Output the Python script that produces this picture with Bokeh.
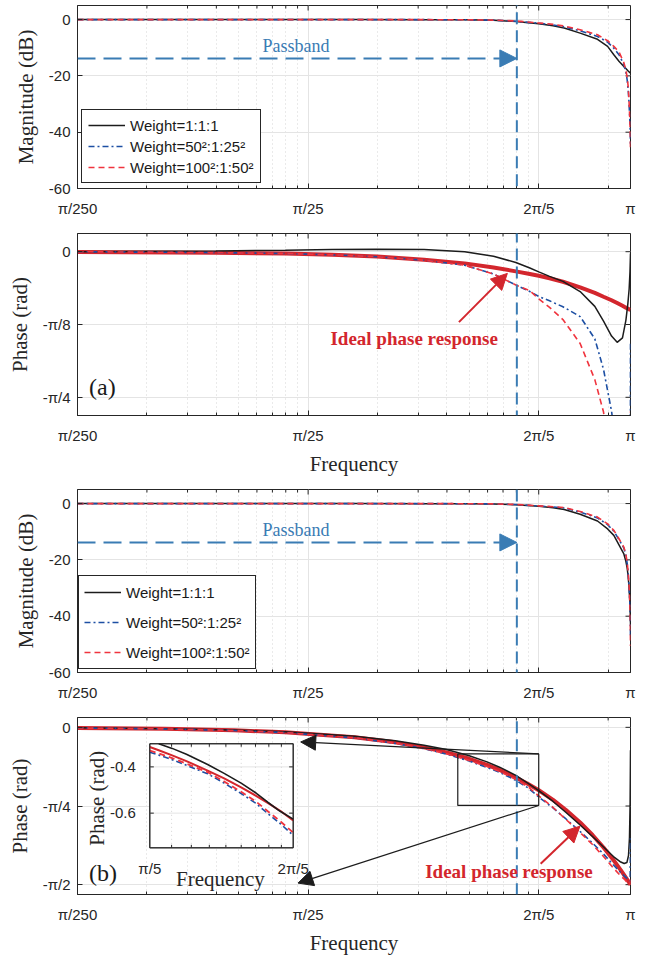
import math
from bokeh.plotting import figure
from bokeh.layouts import column
from bokeh.models import (FixedTicker, Range1d, LogScale,
                          Legend, LegendItem, Arrow, NormalHead, Label)
from bokeh.embed import file_html
from bokeh.resources import INLINE

PI = math.pi

# ---------------- axes / ticks ----------------
X_TICKS = [PI / 250, PI / 25, 2 * PI / 5, PI]
X_TICK_LABELS = ["π/250", "π/25", "2π/5", "π"]
X_MINOR_TICKS = ([k * PI / 250 for k in range(2, 10)]
                 + [k * PI / 25 for k in range(2, 10)] + [4 * PI / 5])

MAG_TICKS = [-60, -40, -20, 0]
MAG_TICK_LABELS = ["-60", "-40", "-20", "0"]
PHASE_A_TICKS = [-PI / 4, -PI / 8, 0]
PHASE_A_TICK_LABELS = ["-π/4", "-π/8", "0"]
PHASE_B_TICKS = [-PI / 2, -PI / 4, 0]
PHASE_B_TICK_LABELS = ["-π/2", "-π/4", "0"]

MAG_Y_RANGE = (-60, 5)
PHASE_A_Y_RANGE = (-9 * PI / 32, PI / 32)
PHASE_B_Y_RANGE = (-17 * PI / 32, PI / 32)

SERIES_LABELS = ["Weight=1:1:1", "Weight=50²:1:25²", "Weight=100²:1:50²"]

# ---------------- magnitude data (dB) ----------------
FREQ_MAG = [0.012566, 0.05, 0.1, 0.2, 0.4, 0.6, 0.8, 1.0, 1.257, 1.45, 1.62, 1.9,
            2.26, 2.5, 2.66, 2.8, 2.94, 3.0, 3.04, 3.07, 3.09, 3.11, 3.125, 3.135, 3.1416]
MAG_A_W1 = [0.0, 0.0, 0.0, -0.01, -0.05, -0.1, -0.25, -0.7, -1.5, -2.2, -3.0, -4.8,
            -7.0, -9.5, -12.5, -14.8, -16.7, -17.4, -17.9, -18.3, -18.5, -18.7, -18.85, -18.95, -19.0]
MAG_A_W2 = [0.0, 0.0, 0.0, -0.01, -0.03, -0.08, -0.2, -0.6, -1.3, -1.9, -2.6, -4.0,
            -6.0, -8.0, -10.2, -12.5, -16.0, -18.5, -21.5, -25.0, -28.5, -33.0, -37.0, -40.5, -45.0]
MAG_A_W3 = [0.0, 0.0, 0.0, -0.01, -0.03, -0.07, -0.18, -0.5, -1.2, -1.7, -2.3, -3.6,
            -5.4, -7.5, -9.5, -11.5, -15.3, -17.9, -20.5, -23.8, -27.5, -32.5, -37.0, -41.0, -46.4]
MAG_B_W1 = [0.0, 0.0, 0.0, -0.01, -0.02, -0.05, -0.15, -0.4, -0.96, -1.5, -2.1, -3.8,
            -6.2, -9.0, -11.3, -14.7, -17.9, -20.5, -23.0, -26.0, -28.8, -32.5, -36.5, -39.5, -42.8]
MAG_B_W2 = [0.0, 0.0, 0.0, -0.01, -0.02, -0.04, -0.12, -0.35, -0.85, -1.2, -1.55, -3.0,
            -5.1, -7.5, -9.8, -12.8, -15.8, -18.3, -21.3, -24.8, -28.3, -32.2, -36.8, -41.5, -47.6]
MAG_B_W3 = [0.0, 0.0, 0.0, -0.01, -0.02, -0.04, -0.1, -0.3, -0.8, -1.1, -1.4, -2.8,
            -4.8, -7.2, -9.5, -12.5, -15.5, -18.0, -21.0, -24.5, -28.0, -32.0, -37.0, -42.0, -50.6]

# ---------------- phase data (rad), case (a) ----------------
FREQ_PHA_A = [0.012566, 0.05, 0.1, 0.16, 0.25, 0.4, 0.6, 0.8, 1.0, 1.15, 1.257, 1.4,
              1.6, 1.9, 2.2, 2.4, 2.6, 2.75, 2.9, 3.0, 3.06, 3.1, 3.125, 3.1416]
PHA_A_IDEAL = [-0.001, -0.005, -0.01, -0.017, -0.026, -0.043, -0.063, -0.085, -0.106, -0.12, -0.13, -0.143,
               -0.162, -0.192, -0.222, -0.243, -0.262, -0.277, -0.292, -0.302, -0.307, -0.311, -0.313, -0.314]
PHA_A_W1 = [0.0, 0.004, 0.008, 0.012, 0.013, 0.012, 0.0, -0.025, -0.058, -0.088, -0.109, -0.133,
            -0.16, -0.215, -0.295, -0.375, -0.455, -0.489, -0.465, -0.37, -0.28, -0.2, -0.11, -0.01]
PHA_A_W2 = [0.0, -0.005, -0.01, -0.017, -0.027, -0.046, -0.073, -0.12, -0.18, -0.215, -0.241, -0.265,
            -0.297, -0.35, -0.47, -0.635, -0.86, -1.1, -1.5, -2.0, -2.5, -3.0, -3.3, -0.48]
PHA_A_W3 = [0.0, -0.005, -0.01, -0.017, -0.027, -0.046, -0.073, -0.12, -0.18, -0.21, -0.255, -0.3,
            -0.366, -0.495, -0.69, -0.865, -1.2, -1.6, -2.1, -2.5, -2.8, -3.0, -3.2, -0.86]

# ---------------- phase data (rad), case (b) ----------------
FREQ_PHA_B = [0.012566, 0.03, 0.06, 0.1, 0.2, 0.3, 0.4, 0.5, 0.628, 0.75, 0.85, 1.0, 1.13, 1.257,
              1.45, 1.65, 1.9, 2.15, 2.4, 2.65, 2.85, 2.95, 3.03, 3.08, 3.11, 3.13, 3.1416]
PHA_B_IDEAL = [-0.006, -0.015, -0.03, -0.05, -0.1, -0.15, -0.2, -0.25, -0.314, -0.375, -0.425, -0.5, -0.565, -0.628,
               -0.725, -0.825, -0.95, -1.075, -1.2, -1.325, -1.425, -1.475, -1.515, -1.54, -1.555, -1.565, -1.571]
PHA_B_W1 = [-0.005, -0.013, -0.027, -0.045, -0.09, -0.134, -0.178, -0.222, -0.284, -0.345, -0.398, -0.48, -0.56, -0.631,
            -0.74, -0.85, -0.975, -1.09, -1.195, -1.29, -1.345, -1.36, -1.35, -1.28, -1.1, -0.75, -0.23]
PHA_B_W2 = [-0.0065, -0.016, -0.032, -0.053, -0.106, -0.16, -0.213, -0.267, -0.337, -0.4, -0.448, -0.53, -0.605, -0.696,
            -0.805, -0.915, -1.04, -1.155, -1.265, -1.375, -1.45, -1.482, -1.505, -1.52, -1.53, -1.535, -1.08]
PHA_B_W3 = [-0.0065, -0.016, -0.031, -0.052, -0.104, -0.157, -0.21, -0.263, -0.33, -0.392, -0.44, -0.52, -0.594, -0.684,
            -0.8, -0.92, -1.05, -1.17, -1.29, -1.405, -1.485, -1.515, -1.545, -1.558, -1.566, -1.571, -1.5]

# ---------------- inset (zoom of case (b) phase) ----------------
INSET_X_TICKS = [PI / 5, 2 * PI / 5]
INSET_X_TICK_LABELS = ["π/5", "2π/5"]
INSET_X_MINOR = [k * PI / 45 for k in range(10, 18)]
INSET_Y_TICKS = [-0.6, -0.4]
INSET_Y_TICK_LABELS = ["-0.6", "-0.4"]
INSET_Y_RANGE = (-0.75, -0.3)
INSET_FREQ = [0.6283, 0.656, 0.7, 0.75, 0.831, 0.9, 0.977, 1.05, 1.113, 1.18, 1.2566]
INSET_IDEAL = [-0.314, -0.328, -0.35, -0.375, -0.416, -0.45, -0.489, -0.525, -0.557, -0.59, -0.632]
INSET_W2 = [-0.337, -0.349, -0.369, -0.393, -0.43, -0.47, -0.515, -0.558, -0.603, -0.645, -0.696]
INSET_W3 = [-0.33, -0.342, -0.362, -0.386, -0.423, -0.463, -0.508, -0.55, -0.593, -0.635, -0.684]
INSET_FREQ_W1 = [0.656, 0.7, 0.75, 0.831, 0.9, 0.977, 1.05, 1.113, 1.18, 1.2566]
INSET_W1 = [-0.30, -0.32, -0.345, -0.39, -0.428, -0.47, -0.513, -0.554, -0.592, -0.626]

PASSBAND_EDGE = 1.01          # rad/sample
PASSBAND_ARROW_DB = -13.8
ZOOM_BOX = (0.56, 2 * PI / 5, -0.78, -0.265)   # left, right, bottom, top

# ---------------- styles ----------------
C_BLACK = "#1c1c1c"
C_BLUE = "#1d4fa3"
C_RED = "#f0343e"
C_IDEAL = "#d3262d"
C_PB = "#3a7cb4"
C_AX = "#262626"
C_GRID = "#e4e4e4"
C_MINOR = "#d4d4d4"
SANS = "Liberation Sans"
SERIF = "Liberation Serif"

BORDER_L = 77
BORDER_R = 22
FRAME_W = 553
W = BORDER_L + FRAME_W + BORDER_R


def style_axis(ax):
    ax.axis_line_color = C_AX
    ax.major_tick_line_color = C_AX
    ax.minor_tick_line_color = C_AX
    ax.major_tick_in = 5
    ax.major_tick_out = 0
    ax.minor_tick_in = 3
    ax.minor_tick_out = 0
    ax.major_label_text_font = SANS
    ax.major_label_text_color = C_AX
    ax.major_label_text_font_size = "15px"


def base_fig(height, b_top, b_bottom, yr, yticks, ylabels, ylabel, ylab_standoff,
             xlabel=None, xlab_standoff=5):
    p = figure(width=W, height=height, x_axis_type="log",
               x_range=Range1d(PI / 250, PI), y_range=Range1d(*yr),
               output_backend="svg", toolbar_location=None,
               min_border_left=BORDER_L, min_border_right=BORDER_R,
               min_border_top=b_top, min_border_bottom=b_bottom)
    p.background_fill_color = "white"
    p.border_fill_color = "white"
    p.outline_line_color = C_AX
    p.outline_line_width = 1
    p.outline_line_alpha = 1.0

    xt = FixedTicker(ticks=X_TICKS, minor_ticks=X_MINOR_TICKS)
    yt = FixedTicker(ticks=yticks, minor_ticks=[])

    xa = p.xaxis[0]
    xa.ticker = xt
    xa.major_label_overrides = dict(zip(X_TICKS, X_TICK_LABELS))
    style_axis(xa)
    xa.major_label_standoff = 11
    if xlabel:
        xa.axis_label = xlabel
        xa.axis_label_text_font = SERIF
        xa.axis_label_text_font_size = "21px"
        xa.axis_label_text_font_style = "normal"
        xa.axis_label_text_color = C_AX
        xa.axis_label_standoff = xlab_standoff

    ya = p.yaxis[0]
    ya.ticker = yt
    ya.major_label_overrides = dict(zip(yticks, ylabels))
    style_axis(ya)
    ya.minor_tick_line_color = None
    ya.major_label_standoff = 7
    ya.axis_label = ylabel
    ya.axis_label_text_font = SERIF
    ya.axis_label_text_font_size = "21px"
    ya.axis_label_text_font_style = "normal"
    ya.axis_label_text_color = C_AX
    ya.axis_label_standoff = ylab_standoff

    p.xgrid[0].ticker = xt
    p.ygrid[0].ticker = yt
    p.xgrid.grid_line_color = C_GRID
    p.ygrid.grid_line_color = C_GRID
    p.xgrid.minor_grid_line_color = C_MINOR
    p.xgrid.minor_grid_line_dash = "1 3"

    # inward ticks on the top and right edges of the box
    p.ray(x=X_TICKS, y=[yr[1]] * len(X_TICKS), length=5, length_units="screen",
          angle=-PI / 2, line_color=C_AX, line_width=1)
    p.ray(x=X_MINOR_TICKS, y=[yr[1]] * len(X_MINOR_TICKS), length=3, length_units="screen",
          angle=-PI / 2, line_color=C_AX, line_width=1)
    p.ray(x=[PI] * len(yticks), y=yticks, length=5, length_units="screen",
          angle=PI, line_color=C_AX, line_width=1)
    return p


def vline(p, y0, y1):
    p.add_layout(Arrow(x_start=PASSBAND_EDGE, y_start=y0, x_end=PASSBAND_EDGE, y_end=y1,
                       start=None, end=None, line_color=C_PB, line_width=2, line_dash="12 6"))


def passband(p):
    p.add_layout(Arrow(x_start=PI / 250, y_start=PASSBAND_ARROW_DB,
                       x_end=PASSBAND_EDGE, y_end=PASSBAND_ARROW_DB,
                       end=NormalHead(size=17, fill_color=C_PB, line_color=C_PB),
                       line_color=C_PB, line_width=2, line_dash="18 8"))
    p.add_layout(Label(x=0.0797, y=-9.3, text="Passband", text_font=SERIF,
                       text_font_size="18px", text_color=C_PB,
                       text_align="left", text_baseline="middle"))


def curves(p, freq, w1, w2, w3, ideal=None, ideal_w=4):
    if ideal is not None:
        p.line(freq, ideal, line_color=C_IDEAL, line_width=ideal_w)
    r1 = p.line(freq, w1, line_color=C_BLACK, line_width=1.5)
    r2 = p.line(freq, w2, line_color=C_BLUE, line_width=1.6, line_dash="6 3 2 3")
    r3 = p.line(freq, w3, line_color=C_RED, line_width=1.6, line_dash="6 4")
    return [r1, r2, r3]


def legend(p, rends, loc, padding, row_h, spacing):
    leg = Legend(items=[LegendItem(label=l, renderers=[r]) for l, r in zip(SERIES_LABELS, rends)],
                 location=loc, orientation="vertical", padding=padding, spacing=spacing,
                 label_height=row_h, glyph_height=row_h, glyph_width=37, label_standoff=5,
                 label_text_font=SANS, label_text_font_size="15px", label_text_color="#1a1a1a",
                 border_line_color=C_AX, border_line_width=1, border_line_alpha=1.0,
                 background_fill_color="white", background_fill_alpha=1.0, margin=0)
    p.add_layout(leg)


def ideal_note(p, tx, ty, x0, y0, x1, y1):
    p.add_layout(Arrow(x_start=x0, y_start=y0, x_end=x1, y_end=y1,
                       end=NormalHead(size=16, fill_color=C_IDEAL, line_color=C_IDEAL),
                       line_color=C_IDEAL, line_width=2))
    p.add_layout(Label(x=tx, y=ty, text="Ideal phase response", text_font=SERIF,
                       text_font_size="19px", text_font_style="bold", text_color=C_IDEAL,
                       text_align="center", text_baseline="middle"))


# ---------------- panel 1: magnitude (a) ----------------
f1 = base_fig(222, 5, 34, MAG_Y_RANGE, MAG_TICKS, MAG_TICK_LABELS, "Magnitude (dB)", 8)
r = curves(f1, FREQ_MAG, MAG_A_W1, MAG_A_W2, MAG_A_W3)
vline(f1, 9, -90)
passband(f1)
legend(f1, r, (4, 5), 6, 18, 3)

# ---------------- panel 2: phase (a) ----------------
f2 = base_fig(256, 11, 62, PHASE_A_Y_RANGE, PHASE_A_TICKS, PHASE_A_TICK_LABELS,
              "Phase (rad)", 8, xlabel="Frequency", xlab_standoff=5)
curves(f2, FREQ_PHA_A, PHA_A_W1, PHA_A_W2, PHA_A_W3, ideal=PHA_A_IDEAL)
vline(f2, 0.6, PHASE_A_Y_RANGE[0])
ideal_note(f2, 0.3624, -0.47, 0.5665, -0.38, 0.9186, -0.117)
f2.add_layout(Label(x=0.0141, y=-0.73, text="(a)", text_font=SERIF, text_font_size="24px",
                    text_color="#1a1a1a", text_align="left", text_baseline="middle"))

# ---------------- panel 3: magnitude (b) ----------------
f3 = base_fig(228, 11, 34, MAG_Y_RANGE, MAG_TICKS, MAG_TICK_LABELS, "Magnitude (dB)", 8)
r = curves(f3, FREQ_MAG, MAG_B_W1, MAG_B_W2, MAG_B_W3)
vline(f3, 5, -90)
passband(f3)
legend(f3, r, (1, 3), 5, 22, 8)

# ---------------- panel 4: phase (b) + inset ----------------
f4 = base_fig(251, 11, 58, PHASE_B_Y_RANGE, PHASE_B_TICKS, PHASE_B_TICK_LABELS,
              "Phase (rad)", 8, xlabel="Frequency", xlab_standoff=5)
curves(f4, FREQ_PHA_B, PHA_B_W1, PHA_B_W2, PHA_B_W3, ideal=PHA_B_IDEAL)
vline(f4, 0.6, PHASE_B_Y_RANGE[0])

# zoom box and connectors (main data coords)
f4.quad(left=[ZOOM_BOX[0]], right=[ZOOM_BOX[1]], bottom=[ZOOM_BOX[2]], top=[ZOOM_BOX[3]],
        fill_color=None, line_color=C_BLACK, line_width=1.2)
f4.add_layout(Arrow(x_start=ZOOM_BOX[1], y_start=ZOOM_BOX[3], x_end=0.1167, y_end=-0.146,
                    end=NormalHead(size=15, fill_color=C_BLACK, line_color=C_BLACK),
                    line_color=C_BLACK, line_width=1.2))
f4.add_layout(Arrow(x_start=ZOOM_BOX[1], y_start=ZOOM_BOX[2], x_end=0.1136, y_end=-1.555,
                    end=NormalHead(size=15, fill_color=C_BLACK, line_color=C_BLACK),
                    line_color=C_BLACK, line_width=1.2))
ideal_note(f4, 0.9337, -1.441, 1.281, -1.361, 1.896, -0.987)
f4.add_layout(Label(x=0.0141, y=-1.451, text="(b)", text_font=SERIF, text_font_size="24px",
                    text_color="#1a1a1a", text_align="left", text_baseline="middle"))

# inset placement: pixel box inside the panel-4 frame (layout, not data)
FR4_TOP, FR4_BOTTOM, FR_L, FR_R = 717.0, 899.0, 77.0, 630.0
IN_L, IN_R, IN_T, IN_B = 149.3, 292.7, 744.0, 851.0
dpp = math.log10(INSET_X_TICKS[1] / INSET_X_TICKS[0]) / (IN_R - IN_L)
ins_x0 = INSET_X_TICKS[0] / 10 ** ((IN_L - FR_L) * dpp)
ins_x1 = INSET_X_TICKS[1] * 10 ** ((FR_R - IN_R) * dpp)
upp = (INSET_Y_RANGE[1] - INSET_Y_RANGE[0]) / (IN_B - IN_T)
ins_y1 = INSET_Y_RANGE[1] + (IN_T - FR4_TOP) * upp
ins_y0 = INSET_Y_RANGE[0] - (FR4_BOTTOM - IN_B) * upp
f4.extra_x_ranges = {"ins": Range1d(ins_x0, ins_x1)}
f4.extra_x_scales = {"ins": LogScale()}
f4.extra_y_ranges = {"ins": Range1d(ins_y0, ins_y1)}
K = dict(x_range_name="ins", y_range_name="ins")

xl, xr = INSET_X_TICKS
yb, ytp = INSET_Y_RANGE
f4.quad(left=[xl], right=[xr], bottom=[yb], top=[ytp], fill_color="white",
        line_color=C_AX, line_width=1, **K)
f4.segment(x0=[xl] * len(INSET_Y_TICKS), x1=[xr] * len(INSET_Y_TICKS),
           y0=INSET_Y_TICKS, y1=INSET_Y_TICKS, line_color=C_GRID, line_width=1, **K)
f4.segment(x0=INSET_X_MINOR, x1=INSET_X_MINOR, y0=[yb] * len(INSET_X_MINOR),
           y1=[ytp] * len(INSET_X_MINOR), line_color=C_MINOR, line_width=1, line_dash="1 3", **K)
f4.line(INSET_FREQ, INSET_IDEAL, line_color=C_IDEAL, line_width=2, **K)
f4.line(INSET_FREQ_W1, INSET_W1, line_color=C_BLACK, line_width=1.6, **K)
f4.line(INSET_FREQ, INSET_W2, line_color=C_BLUE, line_width=1.6, line_dash="6 3 2 3", **K)
f4.line(INSET_FREQ, INSET_W3, line_color=C_RED, line_width=1.8, line_dash="6 4", **K)
# inset ticks (inside)
f4.ray(x=INSET_X_MINOR, y=[yb] * len(INSET_X_MINOR), length=3, length_units="screen",
       angle=PI / 2, line_color=C_AX, line_width=1, **K)
f4.ray(x=INSET_X_MINOR, y=[ytp] * len(INSET_X_MINOR), length=3, length_units="screen",
       angle=-PI / 2, line_color=C_AX, line_width=1, **K)
f4.ray(x=[xl] * len(INSET_Y_TICKS), y=INSET_Y_TICKS, length=4, length_units="screen",
       angle=0, line_color=C_AX, line_width=1, **K)
f4.ray(x=[xr] * len(INSET_Y_TICKS), y=INSET_Y_TICKS, length=4, length_units="screen",
       angle=PI, line_color=C_AX, line_width=1, **K)
f4.quad(left=[xl], right=[xr], bottom=[yb], top=[ytp], fill_color=None,
        line_color=C_AX, line_width=1, **K)
for xv, lab in zip(INSET_X_TICKS, INSET_X_TICK_LABELS):
    f4.add_layout(Label(x=xv, y=yb, y_offset=-12, text=lab, text_font=SANS,
                        text_font_size="15px", text_color=C_AX, text_align="center",
                        text_baseline="top", **K))
for yv, lab in zip(INSET_Y_TICKS, INSET_Y_TICK_LABELS):
    f4.add_layout(Label(x=xl, y=yv, x_offset=-14, text=lab, text_font=SANS,
                        text_font_size="15px", text_color=C_AX, text_align="right",
                        text_baseline="middle", **K))
f4.add_layout(Label(x=0.884, y=yb, y_offset=-19, text="Frequency", text_font=SERIF,
                    text_font_size="21px", text_color=C_AX, text_align="center",
                    text_baseline="top", **K))
f4.add_layout(Label(x=xl, y=-0.5355, x_offset=-53, text="Phase (rad)", text_font=SERIF,
                    text_font_size="21px", text_color=C_AX, text_align="center",
                    text_baseline="middle", angle=PI / 2, **K))

page = column(f1, f2, f3, f4, spacing=0)
open("out.html", "w").write(file_html(page, INLINE))
